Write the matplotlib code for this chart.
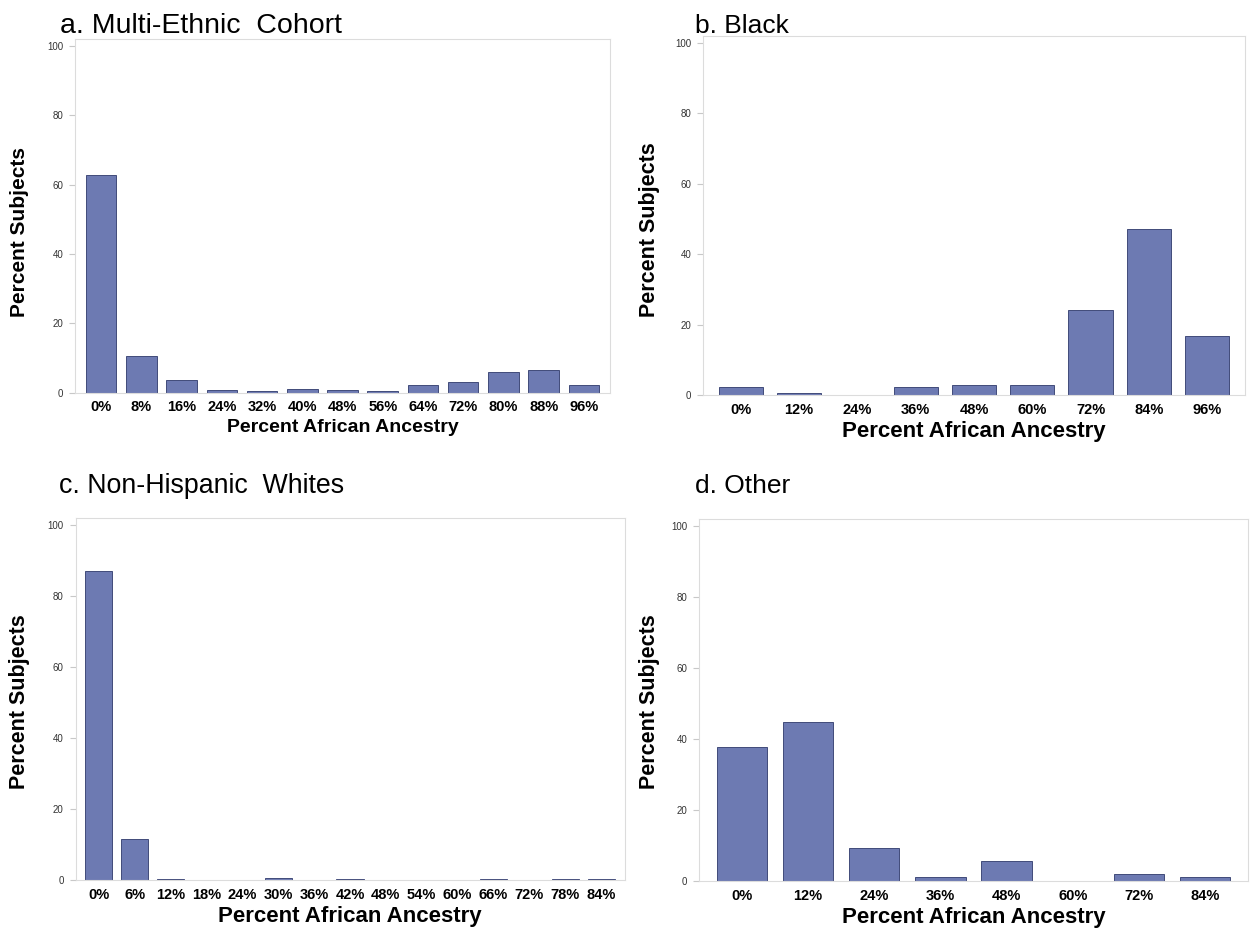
import matplotlib
matplotlib.use("Agg")
import matplotlib.pyplot as plt
import numpy as np

plt.rcParams["font.family"] = ["Liberation Sans", "DejaVu Sans"]

# ── data (percent of subjects per African-ancestry bin) ──────────────────────
labels_a = ["0%", "8%", "16%", "24%", "32%", "40%", "48%", "56%", "64%",
            "72%", "80%", "88%", "96%"]
values_a = [62.9, 10.7, 3.6, 0.9, 0.6, 1.2, 0.9, 0.5, 2.1, 3.0, 6.1, 6.5, 2.3]

labels_b = ["0%", "12%", "24%", "36%", "48%", "60%", "72%", "84%", "96%"]
values_b = [2.4, 0.6, 0.0, 2.4, 3.0, 3.0, 24.3, 47.3, 16.9]

labels_c = ["0%", "6%", "12%", "18%", "24%", "30%", "36%", "42%", "48%",
            "54%", "60%", "66%", "72%", "78%", "84%"]
values_c = [87.0, 11.5, 0.3, 0.0, 0.0, 0.5, 0.0, 0.3, 0.0, 0.0, 0.0,
            0.3, 0.0, 0.3, 0.3]

labels_d = ["0%", "12%", "24%", "36%", "48%", "60%", "72%", "84%"]
values_d = [37.7, 44.8, 9.2, 1.0, 5.6, 0.0, 2.0, 1.0]

titles = ["a. Multi-Ethnic  Cohort", "b. Black",
          "c. Non-Hispanic  Whites", "d. Other"]

W, H = 1254, 935
BAR = "#6d7ab2"
EDGE = "#414b7a"
FRAME = "#dcdcdc"


def px(left, top, right, bottom):
    """pixel box -> figure fraction rect"""
    return [left / W, 1 - bottom / H, (right - left) / W, (bottom - top) / H]


fig = plt.figure(figsize=(W / 100, H / 100), dpi=100)

# each source panel was scaled a little differently in the composite
panels = [
    # labels, values, axes box, title pos, title size, ylabel pos, ylabel size, xlabel size
    (labels_a, values_a, px(75, 39, 610, 392.7), (60, 33), 20.5, (20, 232), 15, 14),
    (labels_b, values_b, px(703, 36, 1245, 395.3), (695, 33), 19, (650, 230), 15.5, 16),
    (labels_c, values_c, px(75.5, 518, 624.5, 880), (59, 493), 19.3, (20, 702), 15.5, 16),
    (labels_d, values_d, px(699, 519, 1248, 881), (695, 493), 19, (650, 702), 15.5, 16),
]

for (labels, values, rect, tpos, tsize, ypos, ysize, xsize), title in zip(panels, titles):
    ax = fig.add_axes(rect)
    x = np.arange(len(labels))
    ax.bar(x, values, width=0.76, color=BAR, edgecolor=EDGE, linewidth=0.7)
    ax.set_xlim(-0.65, len(labels) - 1 + 0.65)
    ax.set_ylim(0, 102)
    ax.set_yticks([0, 20, 40, 60, 80, 100])
    ax.set_xticks(x)
    ax.set_xticklabels(labels, fontsize=10.5, fontweight="bold")
    ax.tick_params(axis="x", length=0, pad=5.5)
    ax.tick_params(axis="y", length=4.5, width=0.8, color="#c8c8c8",
                   labelsize=7, labelcolor="#333333", pad=4)
    for s in ax.spines.values():
        s.set_color(FRAME)
        s.set_linewidth(0.8)
    ax.set_xlabel("Percent African Ancestry", fontsize=xsize,
                  fontweight="bold", labelpad=3)

    fig.text(tpos[0] / W, 1 - tpos[1] / H, title, fontsize=tsize,
             ha="left", va="baseline")
    fig.text(ypos[0] / W, 1 - ypos[1] / H, "Percent Subjects", fontsize=ysize,
             fontweight="bold", rotation=90, ha="center", va="center")

fig.savefig("out.png", dpi=100)
